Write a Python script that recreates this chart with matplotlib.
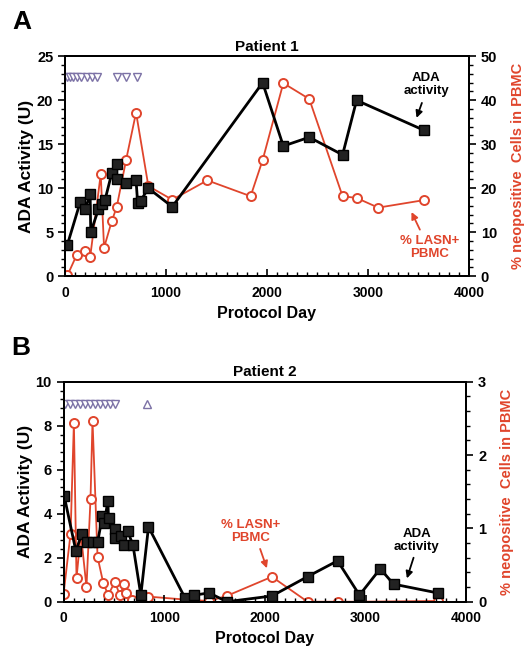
import matplotlib.pyplot as plt
from matplotlib.ticker import MultipleLocator

plt.rcParams['font.family'] = ['Liberation Sans', 'DejaVu Sans']
plt.rcParams['font.weight'] = 'bold'

RED = '#e0452c'
TRI = '#7c72a6'

# Patient 1
p1_ada_day = [23, 149, 198, 248, 254, 330, 363, 396, 462, 512, 512, 604, 703, 719, 749, 825,
              1062, 1957, 2162, 2419, 2749, 2888, 3554]
p1_ada = [3.6, 8.4, 7.6, 9.3, 5.0, 7.6, 8.2, 8.7, 11.7, 12.8, 11.0, 10.6, 10.9, 8.3, 8.6, 10.0,
          7.9, 22.0, 14.8, 15.8, 13.8, 20.0, 16.6]
p1_lasn_day = [23, 116, 198, 248, 353, 386, 462, 512, 604, 703, 825, 1062, 1409, 1838, 1957,
               2162, 2419, 2749, 2888, 3102, 3554]
p1_lasn = [0.2, 4.9, 5.7, 4.3, 23.2, 6.5, 12.5, 15.8, 26.4, 37.2, 20.5, 17.4, 21.8, 18.2, 26.4,
           43.9, 40.3, 18.2, 17.8, 15.6, 17.3]
p1_tri_day = [17, 50, 82, 116, 158, 215, 264, 314, 512, 601, 716]

# Patient 2
p2_ada_day = [7, 123, 182, 238, 288, 338, 387, 407, 440, 447, 507, 513, 573, 596, 636, 689, 768,
              844, 1209, 1301, 1447, 1623, 2070, 2424, 2722, 2940, 3146, 3278, 3715]
p2_ada = [4.8, 2.3, 3.1, 2.7, 2.7, 2.7, 3.9, 3.6, 4.6, 3.8, 3.3, 2.9, 3.0, 2.6, 3.2, 2.6, 0.3,
          3.4, 0.15, 0.3, 0.4, 0.0, 0.26, 1.14, 1.86, 0.3, 1.5, 0.8, 0.4]
p2_lasn_day = [0, 70, 103, 129, 172, 228, 268, 288, 338, 394, 443, 510, 560, 603, 620, 679, 838,
               1202, 1447, 1623, 2070, 2424, 2722, 2940, 3715]
p2_lasn = [0.1, 0.93, 2.44, 0.32, 0.93, 0.20, 1.40, 2.47, 0.61, 0.26, 0.09, 0.27, 0.09, 0.24,
           0.12, 0.03, 0.07, 0.03, 0.01, 0.08, 0.34, 0.0, 0.0, 0.0, 0.01]
p2_tri_day = [17, 66, 116, 166, 215, 265, 315, 364, 414, 464, 513]
p2_up_day = [828]

fig = plt.figure(figsize=(5.25, 6.47), dpi=100)


def panel(rect, letter, title, ada_day, ada, lasn_day, lasn, ylim, rlim, ymaj, ymin, rmaj, rmin):
    ax = fig.add_axes(rect)
    ax2 = ax.twinx()
    ax.set_zorder(ax2.get_zorder() + 1)
    ax.patch.set_visible(False)

    ax2.plot(lasn_day, lasn, '-o', color=RED, lw=1.3, ms=6.5, mfc='white', mec=RED, mew=1.4)
    ax.plot(ada_day, ada, '-s', color='black', lw=2, ms=6.5, mfc='#222222', mec='black')

    ax.set_xlim(0, 4000)
    ax.set_ylim(*ylim)
    ax2.set_ylim(*rlim)
    ax.xaxis.set_major_locator(MultipleLocator(1000))
    ax.xaxis.set_minor_locator(MultipleLocator(100))
    ax.yaxis.set_major_locator(MultipleLocator(ymaj))
    ax.yaxis.set_minor_locator(MultipleLocator(ymin))
    ax2.yaxis.set_major_locator(MultipleLocator(rmaj))
    ax2.yaxis.set_minor_locator(MultipleLocator(rmin))
    ax.tick_params(axis='x', direction='in', length=5, width=1.2, labelsize=10, pad=7)
    ax.tick_params(axis='x', which='minor', direction='in', length=3, width=1)
    ax.tick_params(axis='y', direction='out', length=5, width=1.2, labelsize=10.5)
    ax.tick_params(axis='y', which='minor', direction='out', length=3, width=1)
    ax2.tick_params(axis='y', direction='out', length=5, width=1.2, labelsize=10.5)
    ax2.tick_params(axis='y', which='minor', direction='out', length=3, width=1)
    for lab in ax.get_xticklabels() + ax.get_yticklabels() + ax2.get_yticklabels():
        lab.set_fontweight('bold')
    for a in (ax, ax2):
        for s in a.spines.values():
            s.set_linewidth(1.4)

    ax.set_xlabel('Protocol Day', fontsize=11.5, fontweight='bold', labelpad=4)
    ax.set_ylabel('ADA Activity (U)', fontsize=12.5, fontweight='bold', labelpad=2)
    ax2.set_ylabel('% neopositive  Cells in PBMC', fontsize=10.5, fontweight='bold',
                   color=RED, labelpad=10)
    ax.set_title(title, fontsize=11, fontweight='bold', pad=4)
    ax.text(-0.13, 1.1, letter, transform=ax.transAxes, fontsize=19, fontweight='bold',
            ha='left', va='bottom')
    return ax, ax2


def label_arrow(a, text, xytext, tail, head, color):
    a.text(xytext[0], xytext[1], text, ha='center', va='center', fontsize=9.5,
           fontweight='bold', color=color, linespacing=1.1)
    a.annotate('', xy=head, xytext=tail,
               arrowprops=dict(arrowstyle='-|>', color=color, lw=1.3, mutation_scale=10,
                               shrinkA=0, shrinkB=0))


ax, ax2 = panel([0.124, 0.573, 0.769, 0.340], 'A', 'Patient 1', p1_ada_day, p1_ada,
                p1_lasn_day, p1_lasn, (0, 25), (0, 50), 5, 1, 10, 2)
ax.plot(p1_tri_day, [22.6] * len(p1_tri_day), 'v', ls='none', ms=6, mfc='white', mec=TRI, mew=1)
label_arrow(ax, 'ADA\nactivity', (3581, 21.8), (3535, 19.7), (3482, 18.0), 'black')
label_arrow(ax, '% LASN+\nPBMC', (3614, 3.3), (3515, 5.3), (3432, 7.3), RED)

bx, bx2 = panel([0.121, 0.070, 0.767, 0.340], 'B', 'Patient 2', p2_ada_day, p2_ada,
                p2_lasn_day, p2_lasn, (0, 10), (0, 3), 2, 0.4, 1, 0.2)
bx.plot(p2_tri_day, [9.0] * len(p2_tri_day), 'v', ls='none', ms=6, mfc='white', mec=TRI, mew=1)
bx.plot(p2_up_day, [9.0] * len(p2_up_day), '^', ls='none', ms=6, mfc='white', mec=TRI, mew=1)
label_arrow(bx, '% LASN+\nPBMC', (1854, 3.2), (1953, 2.4), (2020, 1.52), RED)
label_arrow(bx, 'ADA\nactivity', (3510, 2.8), (3477, 2.0), (3411, 1.06), 'black')

fig.savefig('out.png', dpi=100)
